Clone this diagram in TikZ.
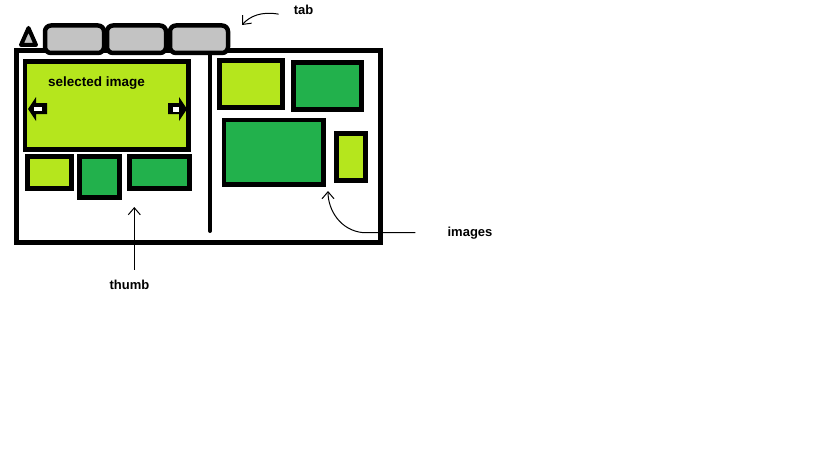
\documentclass[tikz,border=0pt]{standalone}
\usepackage{fontspec}
\setmainfont{Liberation Sans}
\usetikzlibrary{arrows.meta}
\definecolor{lima}{HTML}{B5E61D}
\definecolor{verde}{HTML}{22B14C}
\definecolor{gris}{HTML}{C3C3C3}

\begin{document}
\begin{tikzpicture}[x=1pt, y=-1pt,
        foto/.style={draw, line width=4.7pt, inner sep=0pt, outer sep=0pt},
        pestana/.style={draw, fill=gris, line width=4.5pt, rounded corners=6pt,
            minimum width=59pt, minimum height=27.5pt, inner sep=0pt},
        etiqueta/.style={font=\bfseries\fontsize{13}{15}\selectfont, inner sep=0pt, anchor=base},
        flecha/.style={line width=1pt, -{Straight Barb[length=7pt, width=12pt]}}]
        \useasboundingbox (0,0) rectangle (819,460);

        % Marco
        \node[draw, line width=5pt, minimum width=364pt, minimum height=192.3pt] (marco) at (198.5,146.35) {};
        \draw[line width=4pt, line cap=round] (210,52) -- (210,231);

        % Pestañas
        \draw[line width=4pt, line join=round, fill=gris] (28.5,28) -- (21,45) -- (36,45) -- cycle;
        \node[pestana] (pest1) at (74.5,39.25) {};
        \node[pestana] (pest2) at (136.5,39.25) {};
        \node[pestana, minimum width=58pt] (pest3) at (199,39.25) {};

        % Imagen seleccionada
        \node[foto, fill=lima, minimum width=163.6pt, minimum height=88pt] (seleccion) at (106.9,105.4) {};
        \node[etiqueta, font=\bfseries\fontsize{13.5}{15}\selectfont] (textosel) at (96.5,86.5) {selected image};
        \fill (28,109) -- (36,97) -- (36,103) -- (47,103) -- (47,114) -- (36,114) -- (36,121) -- cycle;
        \fill[white] (34,107) rectangle (42,111);
        \fill (187,109) -- (179,97) -- (179,103) -- (168,103) -- (168,114) -- (179,114) -- (179,121) -- cycle;
        \fill[white] (173,107) rectangle (179,112);

        % Miniaturas
        \node[foto, fill=lima, minimum width=44pt, minimum height=32.3pt] (mini1) at (49.4,172.5) {};
        \node[foto, fill=verde, minimum width=40pt, minimum height=41.3pt] (mini2) at (99.4,177) {};
        \node[foto, fill=verde, minimum width=60.3pt, minimum height=32.3pt] (mini3) at (159.5,172.5) {};

        % Imagenes
        \node[foto, fill=lima, minimum width=63.3pt, minimum height=47.3pt] (img1) at (251,84) {};
        \node[foto, fill=verde, minimum width=68.3pt, minimum height=47pt] (img2) at (327.5,85.9) {};
        \node[foto, fill=verde, minimum width=99.6pt, minimum height=64.3pt] (img3) at (273.9,152.2) {};
        \node[foto, fill=lima, minimum width=29.3pt, minimum height=47.3pt] (img4) at (351,157) {};

        % Etiquetas
        \node[etiqueta] (tab) at (303.5,14.8) {tab};
        \node[etiqueta] (pulgar) at (129.5,289) {thumb};
        \node[etiqueta] (imagenes) at (470,236) {images};

        \coordinate (puntatab) at (242,25);
        \coordinate (puntapulgar) at (134.3,207);
        \coordinate (puntaimg) at (328,191);

        \draw[flecha] ([xshift=-15pt, yshift=-4pt]tab.west) .. controls +(-17,-3) and +(8,-9) .. (puntatab);
        \draw[flecha] ([xshift=4.8pt, yshift=9.7pt]pulgar.north) -- (puntapulgar);
        \draw[flecha] ([xshift=-32pt]imagenes.west) -- ++(-52,0) .. controls +(-23,-2) and +(0,19) .. (puntaimg);
    \end{tikzpicture}
\end{document}
